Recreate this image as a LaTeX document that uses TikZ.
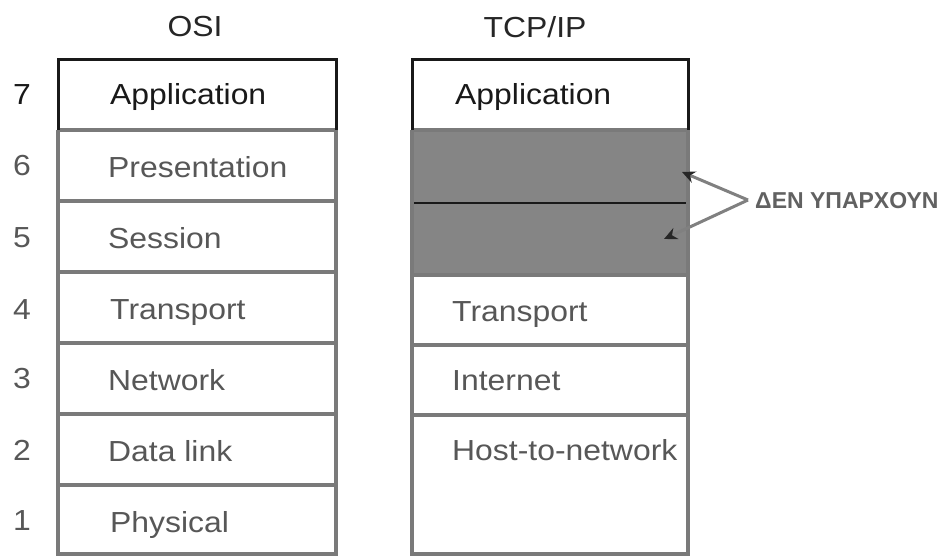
\documentclass[tikz,border=0pt]{standalone}
\usepackage{fontspec}
\setmainfont{Liberation Sans}
\newfontfamily\widesans[FakeStretch=1.1]{Liberation Sans}
\usetikzlibrary{arrows.meta}
\begin{document}
\begin{tikzpicture}[x=1pt,y=-1pt,
  blackrule/.style={line width=3pt,black!90},
  grayrule/.style={line width=4pt,black!52},
  title/.style={font=\widesans\fontsize{29}{32}\selectfont,text=black!85,inner sep=0pt},
  toplabel/.style={font=\widesans\fontsize{29}{32}\selectfont,text=black!90,anchor=base west,inner sep=0pt},
  layerlabel/.style={font=\widesans\fontsize{29}{32}\selectfont,text=black!66,anchor=base west,inner sep=0pt},
  layernum/.style={font=\widesans\fontsize{29}{32}\selectfont,text=black!66,inner sep=0pt},
  pointer/.style={line width=3pt,black!50,-{Stealth[length=13pt,width=12pt,black!85]}}]
\useasboundingbox (0,0) rectangle (941,559);
\fill[white] (0,0) rectangle (941,559);

% headings
\node[title] (osi) at (195,27) {OSI};
\node[title] (tcpip) at (535,27) {TCP/IP};

% layer numbers
\node[layernum,text=black!90] (n7) at (22,95) {7};
\node[layernum] (n6) at (22,166) {6};
\node[layernum] (n5) at (22,238) {5};
\node[layernum] (n4) at (22,310) {4};
\node[layernum] (n3) at (22,379) {3};
\node[layernum] (n2) at (22,450) {2};
\node[layernum] (n1) at (22,521) {1};

% OSI stack
\draw[grayrule] (58,130) -- (58,554) -- (336,554) -- (336,130);
\foreach \y in {130,201,272,343,414,485}
  \draw[grayrule] (58,\y) -- (336,\y);
\draw[blackrule] (58,130) -- (58,60) -- (336,60) -- (336,130);

\node[toplabel] (oapp) at (110,105) {Application};
\node[layerlabel] (opres) at (108,177) {Presentation};
\node[layerlabel] (osess) at (108,248) {Session};
\node[layerlabel] (otrans) at (110,319) {Transport};
\node[layerlabel] (onet) at (108,390) {Network};
\node[layerlabel] (odl) at (108,461) {Data link};
\node[layerlabel] (ophys) at (110,532) {Physical};

% TCP/IP stack
\fill[black!48] (412,130) rectangle (688,275);
\draw[line width=1.5pt,black!90] (414,203) -- (686,203);
\draw[grayrule] (412,130) -- (412,554) -- (688,554) -- (688,130);
\foreach \y in {130,275,345,415}
  \draw[grayrule] (412,\y) -- (688,\y);
\draw[blackrule] (412,130) -- (412,60) -- (688,60) -- (688,130);

\node[toplabel] (tapp) at (455,105) {Application};
\node[layerlabel] (ttrans) at (452,321) {Transport};
\node[layerlabel] (tinet) at (452,390) {Internet};
\node[layerlabel] (thost) at (452,460) {Host-to-network};

% missing layers note
\node[font=\bfseries\fontsize{23}{25}\selectfont,text=black!62,anchor=west,inner sep=0pt]
  (none) at (755,201) {ΔΕΝ ΥΠΑΡΧΟΥΝ};
\coordinate (fork) at (748,200);
\coordinate (uptip) at (682,172);
\coordinate (lowtip) at (664,239);
\draw[pointer] (fork) -- (uptip);
\draw[pointer] (fork) -- (lowtip);
\end{tikzpicture}
\end{document}
